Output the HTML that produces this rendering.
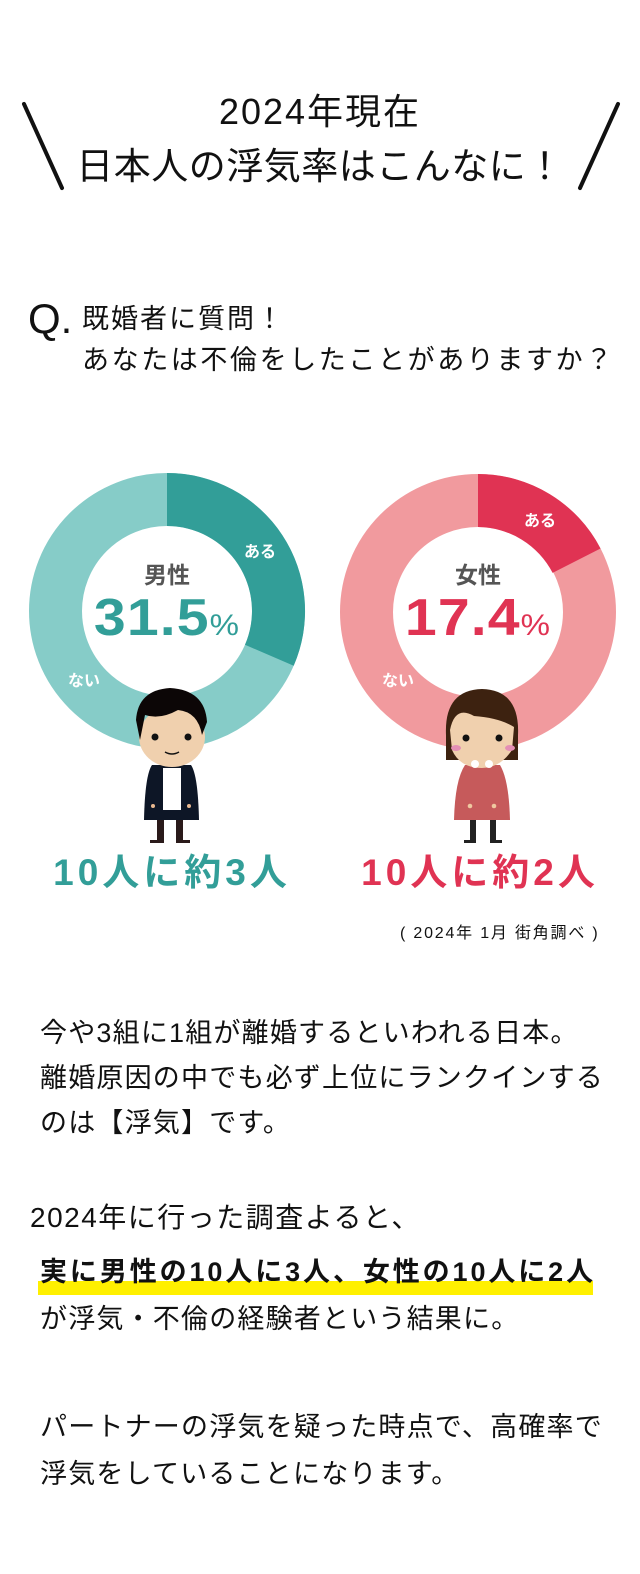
<!DOCTYPE html>
<html><head><meta charset="utf-8"><style>
body{margin:0;width:640px;height:1574px;background:#fff;position:relative;overflow:hidden;font-family:"Liberation Sans","Noto Sans CJK JP",sans-serif;color:#111}
.t{position:absolute;white-space:nowrap;line-height:1}
.b{font-size:27px;letter-spacing:1.2px}
</style></head><body>
<svg width="640" height="1574" style="position:absolute;left:0;top:0">
<line x1="24" y1="104" x2="62" y2="188" stroke="#111" stroke-width="4" stroke-linecap="round"/>
<line x1="618" y1="104" x2="580" y2="188" stroke="#111" stroke-width="4" stroke-linecap="round"/>
<circle cx="167" cy="611" r="111.5" fill="none" stroke="#86ccc8" stroke-width="53"/>
<path d="M167 473 A138 138 0 0 1 293.7 665.8 L245 644.8 A85 85 0 0 0 167 526 Z" fill="#329e98"/>
<circle cx="478" cy="612" r="111.5" fill="none" stroke="#f19a9e" stroke-width="53"/>
<path d="M478 474 A138 138 0 0 1 600.5 548.5 L552.6 572.9 A85 85 0 0 0 478 527 Z" fill="#e03353"/>
<rect x="157" y="815" width="7" height="28" fill="#2a1a1a"/><rect x="176" y="815" width="7" height="28" fill="#2a1a1a"/>
<rect x="150" y="840" width="14" height="3" fill="#2a1a1a"/><rect x="176" y="840" width="14" height="3" fill="#2a1a1a"/>
<path d="M152 765 Q145 775 144 820 L199 820 Q198 775 191 765 Z" fill="#0d1626"/>
<rect x="163" y="768" width="18" height="42" fill="#fff"/>
<circle cx="153" cy="806" r="2" fill="#e8b890"/><circle cx="189" cy="806" r="2" fill="#e8b890"/>
<ellipse cx="172" cy="737" rx="33" ry="30" fill="#f0d0ae"/>
<path d="M136 720 Q138 690 170 688 Q205 690 207 722 L202 735 Q198 712 178 710 Q160 720 145 715 L140 740 Z" fill="#0c0606"/>
<circle cx="155" cy="737" r="3.5" fill="#111"/><circle cx="188" cy="737" r="3.5" fill="#111"/>
<path d="M165 752 Q172 756 179 752" stroke="#111" stroke-width="1.5" fill="none"/>
<rect x="470" y="818" width="6" height="25" fill="#222"/><rect x="490" y="818" width="6" height="25" fill="#222"/>
<rect x="464" y="840" width="12" height="3" fill="#222"/><rect x="490" y="840" width="12" height="3" fill="#222"/>
<path d="M465 765 Q455 780 454 820 L510 820 Q509 780 500 765 Z" fill="#c65a5b"/>
<circle cx="470" cy="806" r="2.3" fill="#efc8a0"/><circle cx="494" cy="806" r="2.3" fill="#efc8a0"/>
<path d="M446 735 Q444 690 482 689 Q520 690 518 735 L518 760 L446 760 Z" fill="#3d2210"/>
<path d="M450 730 Q455 705 474 716 Q500 718 514 727 L512 750 Q500 768 482 768 Q460 768 452 750 Z" fill="#f0d0ae"/>
<circle cx="466" cy="738" r="3.5" fill="#111"/><circle cx="499" cy="738" r="3.5" fill="#111"/>
<ellipse cx="456" cy="748" rx="5" ry="3" fill="#e48fb5"/><ellipse cx="510" cy="748" rx="5" ry="3" fill="#e48fb5"/>
<circle cx="475" cy="764" r="4" fill="#fff"/><circle cx="489" cy="764" r="4" fill="#fff"/>
<rect x="38" y="1281" width="555" height="14" fill="#fff000"/>
</svg>
<div class="t" style="left:0;width:640px;text-align:center;top:94px;font-size:36px;letter-spacing:2px">2024年現在</div>
<div class="t" style="left:0;width:640px;text-align:center;top:148px;font-size:37px;letter-spacing:0.5px">日本人の浮気率はこんなに！</div>
<div class="t" style="left:28px;top:298px;font-size:42px">Q.</div>
<div class="t" style="left:82px;top:306px;font-size:27px;letter-spacing:2px">既婚者に質問！</div>
<div class="t" style="left:82px;top:347px;font-size:27px;letter-spacing:2.6px">あなたは不倫をしたことがありますか？</div>
<div class="t" style="left:244px;top:545px;font-size:16px;font-weight:bold;color:#fff">ある</div>
<div class="t" style="left:68px;top:674px;font-size:16px;font-weight:bold;color:#fff">ない</div>
<div class="t" style="left:524px;top:514px;font-size:16px;font-weight:bold;color:#fff">ある</div>
<div class="t" style="left:382px;top:674px;font-size:16px;font-weight:bold;color:#fff">ない</div>
<div class="t" style="left:0;width:334px;text-align:center;top:564px;font-size:23px;font-weight:bold;color:#555">男性</div>
<div class="t" style="left:0;width:334px;text-align:center;top:592px;font-size:52px;font-weight:bold;color:#329e98;letter-spacing:1px;transform:scaleX(1.1)">31.5<span style="font-size:30px;font-weight:normal">%</span></div>
<div class="t" style="left:0;width:956px;text-align:center;top:564px;font-size:23px;font-weight:bold;color:#555">女性</div>
<div class="t" style="left:311px;width:334px;text-align:center;top:592px;font-size:52px;font-weight:bold;color:#e03353;letter-spacing:1px;transform:scaleX(1.1)">17.4<span style="font-size:30px;font-weight:normal">%</span></div>
<div class="t" style="left:2px;width:340px;text-align:center;top:854px;font-size:37px;font-weight:bold;color:#329e98;letter-spacing:4px">10人に約3人</div>
<div class="t" style="left:0;width:960px;text-align:center;top:854px;font-size:37px;font-weight:bold;color:#e03353;letter-spacing:4px">10人に約2人</div>
<div class="t" style="left:400px;top:926px;font-size:16px;letter-spacing:1.8px">( 2024年 1月 街角調べ )</div>
<div class="t b" style="left:40px;top:1011px;line-height:45px">今や3組に1組が離婚するといわれる日本。<br>離婚原因の中でも必ず上位にランクインする<br>のは【浮気】です。</div>
<div class="t" style="left:30px;top:1204px;font-size:28px;letter-spacing:1.5px">2024年に行った調査よると、</div>
<div class="t b" style="left:40px;top:1259px;font-weight:bold;letter-spacing:2.9px">実に男性の10人に3人、女性の10人に2人</div>
<div class="t b" style="left:40px;top:1306px">が浮気・不倫の経験者という結果に。</div>
<div class="t b" style="left:40px;top:1404px;line-height:47px">パートナーの浮気を疑った時点で、高確率で<br>浮気をしていることになります。</div>
</body></html>
